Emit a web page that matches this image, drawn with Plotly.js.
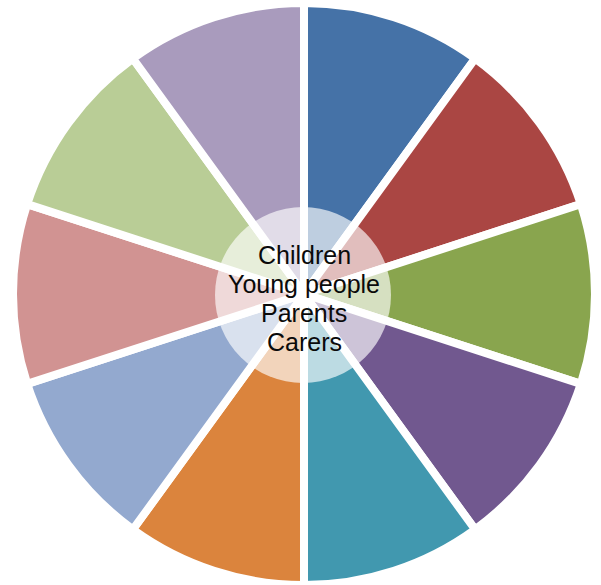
<!DOCTYPE html>
<html>
<head>
<meta charset="utf-8">
<script src="https://cdn.plot.ly/plotly-3.0.1.min.js"></script>
<style>html,body{margin:0;padding:0;background:#fff;}#chart{width:601px;height:585px;}</style>
</head>
<body>
<div id="chart"></div>
<script>
var segments = ["Segment 1","Segment 2","Segment 3","Segment 4","Segment 5","Segment 6","Segment 7","Segment 8","Segment 9","Segment 10"];
var values = [1,1,1,1,1,1,1,1,1,1];
var colors = ["#4572A7","#AA4643","#89A54E","#71588F","#4198AF","#DB843D","#93A9CF","#D19392","#B9CD96","#A99BBD"];
var centerLines = ["Children","Young people","Parents","Carers"];

var W = 601, H = 585;
var cx = 304, cy = 296, R = 293;   // pixel centre / radius of pie
var cr = 88;                        // centre circle radius
var lineY = [255, 284, 313, 342];   // pixel centres of the text lines

var trace = {
  type: 'pie',
  labels: segments,
  values: values,
  sort: false,
  direction: 'clockwise',
  rotation: 0,
  textinfo: 'none',
  hoverinfo: 'none',
  showlegend: false,
  marker: {colors: colors, line: {color: '#ffffff', width: 8}},
  domain: {x: [(cx - R) / W, (cx + R) / W], y: [(H - cy - R) / H, Math.min(1, (H - cy + R) / H)]}
};

var annotations = centerLines.map(function (t, i) {
  return {
    xref: 'paper', yref: 'paper', x: cx / W, y: (H - lineY[i]) / H,
    xanchor: 'center', yanchor: 'middle', showarrow: false,
    text: t,
    font: {family: 'Liberation Sans, Arial, sans-serif', size: 25, color: '#0a0a0a'}
  };
});

var layout = {
  width: W, height: H,
  margin: {l: 0, r: 0, t: 0, b: 0},
  paper_bgcolor: '#ffffff',
  showlegend: false,
  shapes: [{
    type: 'circle', xref: 'paper', yref: 'paper',
    x0: (cx - 1 - cr) / W, x1: (cx - 1 + cr) / W,
    y0: (H - 295 - cr) / H, y1: (H - 295 + cr) / H,
    fillcolor: 'rgba(255,255,255,0.65)', line: {width: 0}, layer: 'above'
  }],
  annotations: annotations
};

Plotly.newPlot('chart', [trace], layout, {displayModeBar: false, staticPlot: true});
</script>
</body>
</html>
